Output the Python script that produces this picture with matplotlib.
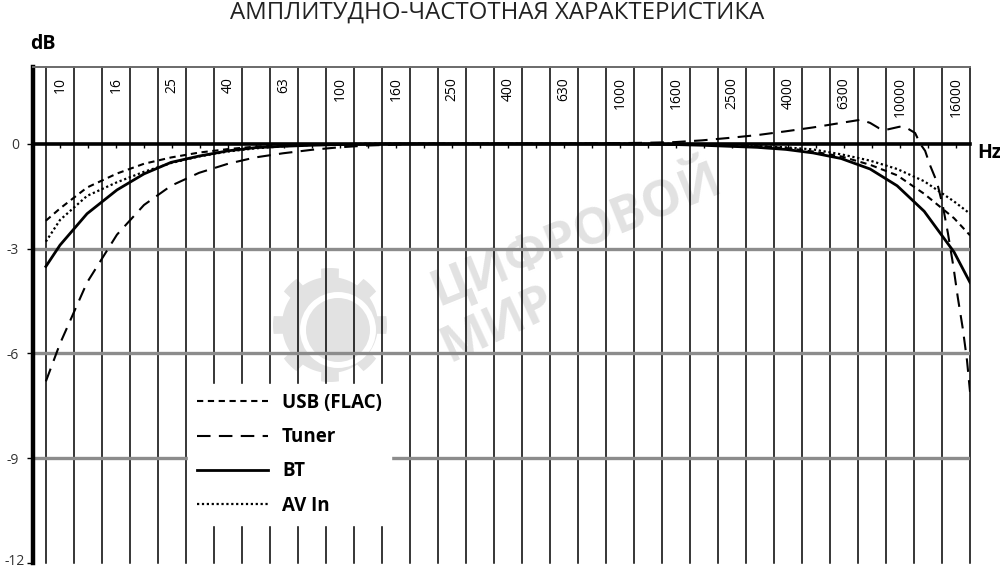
import numpy as np
import matplotlib
matplotlib.use("Agg")
import matplotlib.pyplot as plt
from matplotlib.patches import Polygon, Circle

plt.rcParams['font.family'] = ['Open Sans', 'DejaVu Sans']

# 1/3-octave band centres used on the axis (every second one labelled)
tick_labels = ["10", "16", "25", "40", "63", "100", "160", "250", "400", "630",
               "1000", "1600", "2500", "4000", "6300", "10000", "16000"]
y_ticks = [0, -3, -6, -9, -12]

# common frequency points for USB / BT / AV In
freqs = [8.9, 10, 12.5, 16, 20, 25, 31.5, 40, 50, 63, 80, 100, 125, 160, 200,
         250, 315, 400, 500, 630, 800, 1000, 1250, 1600, 2000, 2500, 3150,
         4000, 5000, 6300, 8000, 10000, 12500, 16000, 18250]

usb = [-2.2, -1.85, -1.25, -0.85, -0.57, -0.39, -0.25, -0.15, -0.08, -0.04,
       -0.02, -0.01, 0, 0, 0, 0, 0, 0, 0, 0, 0, 0, 0, -0.01, -0.02, -0.04,
       -0.07, -0.12, -0.22, -0.36, -0.6, -0.9, -1.43, -2.13, -2.62]

bt = [-3.51, -2.9, -2.0, -1.32, -0.86, -0.53, -0.35, -0.2, -0.11, -0.07,
      -0.04, -0.02, -0.01, 0, 0, 0, 0, 0, 0, 0, 0, 0, -0.01, -0.02, -0.04,
      -0.07, -0.1, -0.16, -0.26, -0.42, -0.72, -1.2, -1.93, -3.1, -3.97]

av_in = [-2.8, -2.18, -1.49, -1.1, -0.8, -0.55, -0.36, -0.22, -0.13, -0.07,
         -0.03, -0.01, 0, 0, 0, 0, 0, 0, 0, 0, 0, 0, 0, 0, -0.01, -0.03,
         -0.06, -0.1, -0.16, -0.3, -0.48, -0.72, -1.07, -1.65, -2.0]

tuner_freqs = [8.9, 10, 12.5, 16, 20, 25, 31.5, 40, 50, 63, 80, 100, 125, 160,
               200, 250, 315, 400, 500, 630, 800, 1000, 1250, 1600, 2000, 2500,
               3150, 4000, 5000, 6300, 7400, 8000, 8600, 9100, 10200, 10800,
               11600, 12100, 12600, 13100, 13900, 14600, 15200, 15900, 16500,
               17200, 17800, 18250]
tuner = [-6.8, -5.72, -3.97, -2.6, -1.75, -1.2, -0.83, -0.57, -0.39, -0.27,
         -0.17, -0.1, -0.05, -0.02, 0, 0, 0, 0, 0, 0, 0.01, 0.02, 0.03, 0.05,
         0.1, 0.17, 0.25, 0.36, 0.47, 0.6, 0.69, 0.6, 0.45, 0.4, 0.49, 0.46,
         0.31, 0.0, -0.2, -0.6, -1.1, -1.8, -2.55, -3.5, -4.4, -5.3, -6.2, -7.1]

band_k = np.arange(0, 33)
band_centres = 10 * 2 ** (band_k / 3)
band_edges = 10 * 2 ** ((np.arange(0, 34) - 0.5) / 3)

fig = plt.figure(figsize=(10, 5.7), dpi=100)
ax = fig.add_axes([0.033, 1 - 563 / 570, 0.937, (563 - 67) / 570])
ax.set_zorder(1)
ax.patch.set_alpha(0)

# watermark (behind the grid)
wm = fig.add_axes([0, 0, 1, 1], zorder=0)
wm.set_xlim(0, 1000)
wm.set_ylim(570, 0)
wm.axis("off")
wcol = "#e2e2e2"
ang = np.linspace(0, 2 * np.pi, 241)
teeth = 48 + 9 * (np.cos(8 * ang) > 0.2)
wm.add_patch(Polygon(np.c_[330 + teeth * np.cos(ang), 325 + teeth * np.sin(ang)],
                     closed=True, color=wcol, lw=0))
wm.add_patch(Circle((338, 330), 38, color="white", lw=0))
wm.add_patch(Circle((338, 330), 32, color=wcol, lw=0))
wm.text(575, 232, "ЦИФРОВОЙ", rotation=22, fontsize=36, fontweight="bold",
        color=wcol, ha="center", va="center", rotation_mode="anchor")
wm.text(498, 325, "МИР", rotation=25, fontsize=36, fontweight="bold",
        color=wcol, ha="center", va="center", rotation_mode="anchor")

ax.set_xscale("log")
ax.set_xlim(10 * 2 ** (-27 / 28 / 3), band_edges[-1])
ax.set_ylim(-12, 2.2)

# grid
for e in band_edges:
    ax.axvline(e, color="black", lw=1.1, zorder=1.5, clip_on=False)
for yv in [-3, -6, -9]:
    ax.axhline(yv, color="#8c8c8c", lw=2.4, zorder=1.6)
ax.axhline(0, color="black", lw=2.6, zorder=2.5, clip_on=False)
ax.vlines(band_centres, -0.12, 0, color="black", lw=1.0, zorder=2.5)

for f, lab in zip(band_centres[::2], tick_labels):
    ax.text(f, 1.9, lab, rotation=90, ha="center", va="top", fontsize=10)

# curves
ax.plot(freqs, usb, color="black", lw=1.5, linestyle=(0, (3.0, 2.2)),
        zorder=3, label="USB (FLAC)")
ax.plot(tuner_freqs, tuner, color="black", lw=1.5, linestyle=(0, (6.5, 4.0)),
        zorder=3, label="Tuner")
ax.plot(freqs, bt, color="black", lw=2.0, zorder=3, label="BT")
ax.plot(freqs, av_in, color="black", lw=1.6, linestyle=(0, (1.0, 1.2)),
        zorder=3, label="AV In")

leg = ax.legend(loc="upper left", bbox_to_anchor=(0.165, 0.361),
                borderaxespad=0, frameon=True, fancybox=False,
                edgecolor="white", facecolor="white", framealpha=1,
                handlelength=3.8, handletextpad=0.75, labelspacing=0.76,
                borderpad=0.48, prop={"weight": "bold", "size": 13.5})
leg.set_zorder(5)

# axes styling
for s in ["right", "bottom"]:
    ax.spines[s].set_visible(False)
ax.spines["left"].set_linewidth(3.2)
ax.spines["top"].set_linewidth(1.4)
ax.spines["top"].set_color("#6a6a6a")
ax.set_xticks([])
ax.set_xticks([], minor=True)
ax.set_yticks(y_ticks)
# the lowest label sits on the figure edge, so it is drawn separately below
ax.set_yticklabels([str(v) for v in y_ticks[:-1]] + [""])
ax.tick_params(axis="y", direction="out", length=4, width=1, pad=6,
               labelsize=10, labelcolor="#333333")
fig.text(0.0245, 0.002, str(y_ticks[-1]), ha="right", va="bottom",
         fontsize=10, color="#333333")

fig.text(0.497, 1 - 13 / 570, "АМПЛИТУДНО-ЧАСТОТНАЯ ХАРАКТЕРИСТИКА",
         ha="center", va="center", fontsize=17.3, color="#222222")
fig.text(0.030, 1 - 44 / 570, "dB", ha="left", va="center", fontsize=14,
         fontweight="bold")
fig.text(0.977, 1 - 153 / 570, "Hz", ha="left", va="center", fontsize=14,
         fontweight="bold")

plt.savefig("out.png", dpi=100)
